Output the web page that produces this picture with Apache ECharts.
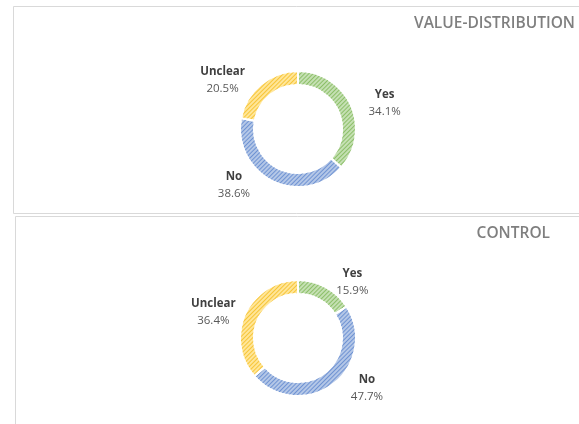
<!DOCTYPE html>
<html>
<head>
<meta charset="utf-8">
<script src="https://cdn.jsdelivr.net/npm/echarts@6/dist/echarts.min.js"></script>
<style>
  html, body { margin: 0; padding: 0; background: #fff; }
  #chart { width: 579px; height: 424px; }
</style>
</head>
<body>
<div id="chart"></div>
<script>
const categories = ['Yes', 'No', 'Unclear'];
const valueDistribution = [34.1, 38.6, 20.5];
const control = [15.9, 47.7, 36.4];
const panelTitles = ['VALUE-DISTRIBUTION', 'CONTROL'];

const baseColors = ['#c5e0b3', '#b4c7e7', '#ffe699'];
const stripeColors = ['#8cbf68', '#6f93d3', '#f7c538'];

const chart = echarts.init(document.getElementById('chart'), null, { renderer: 'canvas' });

function buildData(values, leads) {
    return categories.map(function (name, i) {
        return {
            name: name,
            value: values[i],
            labelLine: { length2: leads[i] },
            itemStyle: {
                color: baseColors[i],
                decal: {
                    symbol: 'rect',
                    dashArrayX: [1, 0],
                    dashArrayY: [1, 1.5],
                    rotation: -Math.PI / 4,
                    color: stripeColors[i]
                }
            }
        };
    });
}

function pieSeries(values, center, leads) {
    return {
        type: 'pie',
        center: center,
        radius: [44, 58],
        startAngle: 90,
        clockwise: true,
        avoidLabelOverlap: false,
        itemStyle: { borderColor: '#fff', borderWidth: 2 },
        label: {
            show: true,
            position: 'outside',
            formatter: function (p) {
                return '{n|' + p.name + '}\n{v|' + p.value.toFixed(1) + '%}';
            },
            rich: {
                n: { fontFamily: 'Open Sans', fontSize: 11.5, fontWeight: 'bold', color: '#404040', align: 'center', lineHeight: 17 },
                v: { fontFamily: 'Open Sans', fontSize: 11.5, color: '#595959', align: 'center', lineHeight: 17 }
            }
        },
        labelLine: { show: false, length: 5, length2: 8 },
        emphasis: { disabled: true },
        data: buildData(values, leads)
    };
}

const titleStyle = { fontFamily: 'Open Sans', fontSize: 15.5, fontWeight: 600, color: '#7f7f7f' };

const option = {
    animation: false,
    backgroundColor: '#fff',
    title: [
        { text: panelTitles[0], right: -1, top: 11, textStyle: titleStyle },
        { text: panelTitles[1], right: 24, top: 221, textStyle: titleStyle }
    ],
    graphic: [
        { type: 'rect', shape: { x: 13.5, y: 6.5, width: 620, height: 207 }, style: { fill: 'none', stroke: '#d9d9d9', lineWidth: 1 }, z: -1 },
        { type: 'rect', shape: { x: 15.5, y: 216.5, width: 620, height: 260 }, style: { fill: 'none', stroke: '#d9d9d9', lineWidth: 1 }, z: -1 }
    ],
    series: [
        pieSeries(valueDistribution, [298, 129], [8, 15, 8]),
        pieSeries(control, [298, 338], [3, 10, 0])
    ]
};

option && chart.setOption(option);
</script>
</body>
</html>
